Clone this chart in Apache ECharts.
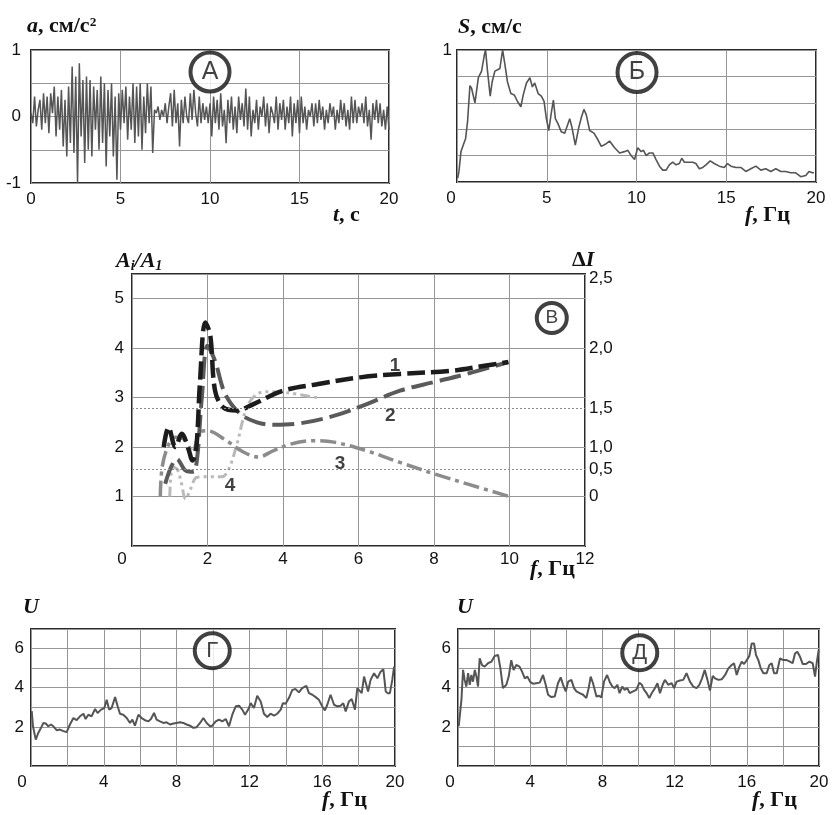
<!DOCTYPE html>
<html>
<head>
<meta charset="utf-8">
<script src="https://cdn.jsdelivr.net/npm/echarts@6/dist/echarts.min.js"></script>
<style>
  html, body { margin: 0; padding: 0; background: #fff; }
  #chart { width: 833px; height: 815px; }
</style>
</head>
<body>
<div id="chart"></div>
<script>
// panel A: accelerogram a(t), sampled every 0.1 s from 0 to 20 s
const accelStep = 0.1;
const accel = [
  0.05, -0.1, 0.3, -0.15, 0.1, 0.25, -0.2, 0.35, -0.1, 0.3,
  -0.25, 0.35, 0.05, 0.45, -0.3, 0.3, -0.2, 0.4, -0.45, 0.25,
  -0.6, 0.45, -0.4, 0.75, -0.55, 0.6, -1.0, 0.8, -0.3, 0.55,
  -0.7, 0.6, -0.5, 0.55, -0.6, 0.45, -0.2, 0.4, -0.5, 0.6,
  -0.4, 0.5, -0.75, 0.4, -0.3, 0.5, -0.6, 0.3, -0.95, 0.35,
  -0.2, 0.4, -0.1, 0.45, -0.35, 0.3, -0.2, 0.5, -0.4, 0.45,
  -0.3, 0.5, -0.5, 0.3, -0.25, 0.5, -0.1, 0.45, -0.55, 0.1,
  0.05, 0.15, -0.05, 0.1, 0.0, 0.2, -0.1, 0.15, 0.35, -0.15,
  0.4, -0.1, 0.2, -0.45, 0.25, -0.1, 0.3, 0.0, -0.1, 0.35,
  -0.05, 0.4, 0.05, -0.15, 0.3, -0.1, 0.2, -0.05, 0.15, -0.1,
  0.2, -0.3, 0.3, -0.1, 0.25, -0.2, 0.35, -0.15, 0.1, -0.4,
  0.25, -0.1, 0.3, -0.2, 0.15, -0.25, 0.3, -0.05, 0.2, -0.15,
  0.42, -0.2, 0.3, -0.3, 0.1, -0.1, 0.25, -0.2, 0.15, 0.0,
  0.3, -0.15, 0.2, -0.25, 0.15, 0.05, -0.1, 0.3, -0.2, 0.2,
  -0.05, 0.25, -0.2, 0.15, -0.1, 0.3, -0.3, 0.2, -0.1, 0.25,
  -0.25, 0.3, -0.1, 0.15, -0.2, 0.1, 0.0, 0.2, -0.15, 0.2,
  -0.1, 0.25, -0.05, 0.15, -0.2, 0.1, -0.1, 0.2, 0.0, 0.15,
  -0.2, 0.1, -0.1, 0.25, -0.05, 0.2, -0.15, 0.1, -0.2, 0.3,
  -0.1, 0.25, -0.1, 0.15, 0.0, 0.2, -0.1, 0.3, -0.15, 0.1,
  -0.35, 0.2, -0.05, 0.25, -0.1, 0.2, -0.15, 0.1, -0.2, 0.15,
  -0.2
];

// panel Б: Fourier spectrum S(f)
const specFreq = [0.04, 0.11, 0.22, 0.35, 0.48, 0.59, 0.72, 0.81, 1.0, 1.19, 1.37, 1.52, 1.59, 1.7, 1.85, 1.96, 2.11, 2.26, 2.39, 2.54, 2.67, 2.81, 3.0, 3.19, 3.37, 3.56, 3.69, 3.87, 4.06, 4.2, 4.33, 4.52, 4.7, 4.85, 4.98, 5.11, 5.26, 5.37, 5.48, 5.63, 5.81, 6.0, 6.28, 6.41, 6.59, 6.78, 6.93, 7.07, 7.2, 7.39, 7.63, 7.85, 8.04, 8.31, 8.5, 8.78, 9.06, 9.33, 9.52, 9.7, 9.89, 10.07, 10.26, 10.39, 10.54, 10.72, 10.91, 11.09, 11.28, 11.46, 11.65, 11.83, 12.02, 12.2, 12.39, 12.52, 12.67, 12.85, 13.13, 13.31, 13.5, 13.69, 13.87, 14.11, 14.33, 14.61, 14.89, 15.07, 15.26, 15.54, 15.81, 16.09, 16.37, 16.65, 16.93, 17.2, 17.48, 17.76, 18.04, 18.31, 18.59, 18.87, 19.15, 19.43, 19.61, 19.8, 19.89];
const specAmp = [0.03, 0.08, 0.23, 0.28, 0.33, 0.46, 0.73, 0.71, 0.6, 0.79, 0.84, 0.96, 1.0, 0.84, 0.65, 0.76, 0.84, 0.85, 0.86, 1.0, 0.89, 0.76, 0.67, 0.66, 0.61, 0.57, 0.66, 0.75, 0.79, 0.72, 0.75, 0.67, 0.65, 0.61, 0.48, 0.39, 0.53, 0.62, 0.48, 0.44, 0.38, 0.37, 0.48, 0.41, 0.28, 0.41, 0.49, 0.55, 0.51, 0.39, 0.37, 0.32, 0.27, 0.29, 0.31, 0.26, 0.22, 0.23, 0.24, 0.2, 0.17, 0.26, 0.23, 0.24, 0.2, 0.22, 0.22, 0.17, 0.12, 0.09, 0.09, 0.13, 0.15, 0.13, 0.14, 0.18, 0.15, 0.15, 0.15, 0.14, 0.1, 0.11, 0.13, 0.16, 0.14, 0.12, 0.11, 0.14, 0.12, 0.11, 0.11, 0.08, 0.1, 0.12, 0.09, 0.1, 0.08, 0.1, 0.08, 0.08, 0.07, 0.07, 0.04, 0.05, 0.08, 0.07, 0.07];

// panel В: amplitude ratios A_i/A_1 (curves 1, 2) and ΔI (curves 3, 4)
const curve1 = [[0.84, 2.0], [0.97, 2.4], [1.15, 2.0], [1.32, 2.27], [1.5, 1.95], [1.6, 1.73], [1.7, 1.95], [1.8, 3.3], [1.94, 4.52], [2.07, 4.28], [2.2, 3.14], [2.42, 2.8], [2.78, 2.74], [3.22, 2.87], [4.0, 3.14], [4.9, 3.27], [6.04, 3.41], [7.1, 3.48], [8.43, 3.54], [9.3, 3.64], [9.97, 3.72]];
const curve2 = [[0.88, 1.26], [1.19, 1.76], [1.41, 1.53], [1.55, 1.5], [1.68, 1.53], [1.85, 3.0], [2.0, 4.05], [2.2, 3.74], [2.47, 3.07], [2.87, 2.67], [3.31, 2.5], [3.75, 2.45], [4.45, 2.48], [5.34, 2.63], [6.22, 2.87], [7.1, 3.14], [7.98, 3.31], [8.87, 3.48], [9.97, 3.72]];
const curve3 = [[0.75, 1.0], [0.8, 1.6], [0.97, 2.05], [1.15, 2.2], [1.4, 2.15], [1.6, 1.9], [1.8, 2.3], [2.0, 2.33], [2.5, 2.13], [2.95, 1.9], [3.35, 1.8], [3.75, 1.93], [4.2, 2.06], [4.8, 2.13], [5.35, 2.1], [6.2, 1.93], [7.1, 1.69], [8.0, 1.46], [8.9, 1.25], [10.0, 1.0]];
const curve4 = [[1.0, 1.0], [1.08, 1.6], [1.2, 1.55], [1.3, 1.3], [1.42, 0.95], [1.55, 1.15], [1.72, 1.39], [2.0, 1.4], [2.38, 1.4], [2.56, 1.55], [2.78, 2.06], [3.04, 2.8], [3.31, 3.07], [3.66, 3.12], [4.1, 3.1], [4.9, 3.0]];
// right axis ΔI: label text and where it sits on the left scale
const dILabels = ['0', '0,5', '1,0', '1,5', '2,0', '2,5'];
const dIPos = [1.0, 1.56, 2.0, 2.78, 4.0, 5.42];
const dIDotted = [1.56, 2.78];
const curveTags = ['1', '2', '3', '4'];
const curveTagPos = [[6.97, 3.64], [6.84, 2.63], [5.51, 1.67], [2.6, 1.22]];

// panel Г: U(f)
const uGFreq = [0.04, 0.11, 0.26, 0.4, 0.55, 0.68, 0.81, 0.95, 1.1, 1.23, 1.41, 1.59, 1.78, 1.96, 2.14, 2.33, 2.51, 2.69, 2.88, 3.0, 3.15, 3.33, 3.52, 3.66, 3.85, 4.03, 4.16, 4.29, 4.43, 4.62, 4.76, 4.89, 5.07, 5.26, 5.44, 5.57, 5.71, 5.9, 6.08, 6.26, 6.45, 6.59, 6.76, 6.9, 7.09, 7.27, 7.45, 7.64, 7.82, 8.0, 8.19, 8.37, 8.55, 8.74, 8.92, 9.1, 9.29, 9.47, 9.65, 9.84, 9.96, 10.15, 10.33, 10.51, 10.7, 10.88, 11.06, 11.25, 11.43, 11.61, 11.76, 11.95, 12.07, 12.25, 12.43, 12.62, 12.8, 12.98, 13.16, 13.35, 13.53, 13.72, 13.84, 13.99, 14.17, 14.36, 14.54, 14.72, 14.9, 15.13, 15.27, 15.46, 15.64, 15.82, 16.0, 16.15, 16.28, 16.46, 16.65, 16.83, 17.01, 17.16, 17.29, 17.47, 17.62, 17.8, 17.93, 18.02, 18.17, 18.3, 18.39, 18.52, 18.66, 18.85, 19.03, 19.21, 19.36, 19.49, 19.61, 19.72, 19.85, 19.95];
const uGVal = [2.8, 2.03, 1.35, 1.69, 1.95, 2.2, 2.17, 2.03, 2.12, 2.03, 1.83, 1.86, 1.78, 1.73, 2.12, 2.45, 2.34, 2.54, 2.67, 2.4, 2.62, 2.54, 2.91, 2.71, 2.88, 2.96, 3.38, 2.88, 2.96, 3.52, 3.05, 2.67, 2.62, 2.45, 2.2, 2.37, 2.06, 2.62, 2.45, 2.34, 2.28, 2.4, 2.71, 2.37, 2.28, 2.2, 2.23, 2.12, 2.17, 2.2, 2.23, 2.2, 2.12, 2.06, 1.95, 1.98, 2.2, 2.45, 2.2, 2.03, 2.06, 2.28, 2.37, 2.28, 2.4, 2.03, 2.62, 3.05, 3.08, 2.88, 2.62, 2.91, 3.21, 2.96, 3.59, 3.3, 2.67, 2.5, 2.67, 2.57, 2.67, 2.88, 3.21, 3.18, 3.47, 3.89, 3.93, 3.76, 3.98, 4.09, 3.72, 3.64, 3.52, 3.38, 3.05, 2.84, 3.13, 3.64, 3.13, 3.05, 3.08, 3.21, 2.79, 3.3, 3.42, 2.88, 3.98, 3.89, 3.72, 4.57, 4.65, 3.81, 4.4, 4.74, 4.48, 4.82, 4.94, 3.81, 3.72, 3.72, 4.4, 5.08];

// panel Д: U(f)
const uDFreq = [0.04, 0.11, 0.19, 0.28, 0.37, 0.46, 0.56, 0.65, 0.74, 0.83, 0.93, 1.02, 1.11, 1.2, 1.33, 1.48, 1.66, 1.85, 2.03, 2.22, 2.35, 2.49, 2.68, 2.81, 2.95, 3.08, 3.23, 3.41, 3.55, 3.7, 3.84, 3.99, 4.15, 4.34, 4.53, 4.71, 4.86, 4.99, 5.17, 5.36, 5.54, 5.69, 5.82, 5.97, 6.1, 6.28, 6.43, 6.56, 6.74, 6.93, 7.11, 7.24, 7.35, 7.48, 7.67, 7.81, 7.94, 8.09, 8.26, 8.4, 8.55, 8.68, 8.83, 8.95, 9.1, 9.23, 9.38, 9.51, 9.7, 9.88, 10.05, 10.18, 10.31, 10.45, 10.6, 10.73, 10.91, 11.05, 11.19, 11.34, 11.46, 11.65, 11.84, 11.97, 12.11, 12.3, 12.48, 12.66, 12.85, 13.03, 13.22, 13.37, 13.52, 13.67, 13.82, 13.96, 14.11, 14.24, 14.43, 14.61, 14.8, 14.98, 15.16, 15.29, 15.44, 15.59, 15.72, 15.85, 16.0, 16.14, 16.27, 16.4, 16.51, 16.64, 16.77, 16.92, 17.1, 17.25, 17.38, 17.51, 17.66, 17.84, 18.02, 18.21, 18.39, 18.54, 18.67, 18.8, 18.95, 19.1, 19.28, 19.47, 19.65, 19.78, 19.87, 19.98];
const uDVal = [2.03, 2.12, 3.38, 4.91, 4.4, 4.06, 4.74, 4.15, 4.65, 4.31, 4.91, 4.57, 4.06, 5.5, 5.16, 5.08, 5.25, 5.33, 5.62, 5.67, 4.99, 3.98, 4.15, 4.57, 5.41, 4.91, 5.16, 5.08, 4.82, 4.48, 4.57, 4.31, 4.2, 4.23, 4.26, 4.65, 4.15, 3.64, 3.52, 3.55, 4.23, 4.53, 4.15, 3.81, 4.31, 4.4, 3.98, 3.81, 3.72, 3.64, 3.47, 3.98, 4.57, 4.23, 3.55, 3.59, 3.5, 4.31, 4.65, 4.31, 4.06, 3.98, 4.15, 3.72, 4.06, 3.89, 3.98, 3.72, 3.81, 3.89, 4.26, 4.15, 3.89, 3.72, 3.47, 3.72, 3.98, 4.23, 3.72, 4.15, 4.4, 4.15, 4.23, 3.98, 4.31, 4.37, 4.4, 4.74, 4.31, 4.06, 3.98, 4.15, 4.48, 4.91, 4.4, 3.86, 4.6, 4.48, 4.4, 4.43, 4.65, 4.99, 5.16, 5.25, 4.65, 5.08, 5.33, 5.21, 5.41, 5.62, 6.26, 6.26, 5.67, 5.41, 4.99, 4.74, 4.74, 5.16, 5.25, 4.74, 4.74, 5.5, 5.41, 5.41, 5.33, 5.25, 5.75, 5.84, 5.58, 5.21, 5.21, 5.33, 5.25, 4.57, 5.25, 5.92];

// panel markers (circled letters)
const panelNames = ['А', 'Б', 'В', 'Г', 'Д'];
const panelMarkPos = [[10.0, 0.67], [10.03, 0.83], [11.12, 4.61], [9.96, 5.89], [10.07, 5.79]];

const SANS = 'Liberation Sans';
const SERIF = 'Liberation Serif';
const GRIDLINE = '#969696';
const TRACE = '#555';
const TICK = 17;

const zip = (xs, ys) => xs.map((x, i) => [x, ys[i]]);

// the "0" tick sits a bit left of the corner in the scan
const zeroLeft = (v) => (v === 0 ? '{z|0}' : String(v));
const everyFourth = (v) => (v % 4 === 0 ? zeroLeft(v) : '');

function xAx(gridIndex, max, interval, opts = {}) {
  return {
    type: 'value', gridIndex, min: 0, max, interval,
    axisLine: { show: false }, axisTick: { show: false },
    splitLine: { show: true, lineStyle: { color: GRIDLINE, width: 1 } },
    axisLabel: {
      fontFamily: SANS, fontSize: TICK, color: '#111', margin: opts.margin || 8,
      formatter: opts.formatter || zeroLeft,
      rich: { z: { fontFamily: SANS, fontSize: TICK, color: '#111', padding: [0, opts.zeroPad || 0, 0, 0] } },
      showMinLabel: true, showMaxLabel: true
    }
  };
}

function yAx(gridIndex, min, max, interval, formatter, margin) {
  return {
    type: 'value', gridIndex, min, max, interval,
    axisLine: { show: false }, axisTick: { show: false },
    splitLine: { show: true, lineStyle: { color: GRIDLINE, width: 1 } },
    axisLabel: { fontFamily: SANS, fontSize: TICK, color: '#111', margin: margin, formatter, showMinLabel: true, showMaxLabel: true }
  };
}

const boxed = { show: true, borderColor: '#2a2a2a', borderWidth: 2, backgroundColor: 'transparent' };

const grids = [
  { left: 31, top: 50, width: 358, height: 133, ...boxed },
  { left: 457, top: 50, width: 359, height: 132, ...boxed },
  { left: 132, top: 274, width: 453, height: 272, ...boxed },
  { left: 31, top: 629, width: 364, height: 137, ...boxed },
  { left: 458, top: 629, width: 361, height: 137, ...boxed }
];

const xAxes = [
  xAx(0, 20, 5, { margin: 8 }),
  xAx(1, 20, 5, { margin: 8, zeroPad: 12 }),
  xAx(2, 12, 2, { margin: 5, zeroPad: 20 }),
  xAx(3, 20, 2, { margin: 8, zeroPad: 18, formatter: everyFourth }),
  xAx(4, 20, 2, { margin: 8, zeroPad: 16, formatter: everyFourth })
];

const yAxes = [
  yAx(0, -1, 1, 0.5, (v) => (Number.isInteger(v) ? String(v) : ''), 10),
  yAx(1, 0, 1, 0.2, (v) => (v === 1 ? '1' : ''), 5),
  yAx(2, 0, 5.5, 1, (v) => (v >= 1 && v <= 5 ? String(v) : ''), 8),
  yAx(3, 0, 7, 1, (v) => (v > 0 && v % 2 === 0 ? String(v) : ''), 7),
  yAx(4, 0, 7, 1, (v) => (v > 0 && v % 2 === 0 ? String(v) : ''), 7),
  // right-hand ΔI scale of panel В, non-uniform labels
  {
    type: 'value', gridIndex: 2, position: 'right', min: 0, max: 5.5,
    axisLine: { show: false }, axisTick: { show: false }, splitLine: { show: false },
    axisLabel: {
      fontFamily: SANS, fontSize: TICK, color: '#111', margin: 4,
      customValues: dIPos,
      formatter: (v) => {
        const i = dIPos.findIndex((p) => Math.abs(p - v) < 1e-6);
        return i >= 0 ? dILabels[i] : '';
      }
    }
  }
];

const titleStyle = {
  fontFamily: SERIF, fontSize: 22, fontWeight: 'bold', color: '#111',
  rich: {
    i: { fontFamily: SERIF, fontSize: 22, fontWeight: 'bold', fontStyle: 'italic', color: '#111' },
    b: { fontFamily: SERIF, fontSize: 22, fontWeight: 'bold', color: '#111' },
    sub: { fontFamily: SERIF, fontSize: 14, fontWeight: 'bold', fontStyle: 'italic', color: '#111', padding: [10, 0, 0, 0] }
  }
};

const label = (text, left, top) => ({ text, left, top, padding: 0, textStyle: titleStyle });

const titles = [
  label('{i|a}{b|, см/с²}', 27, 15),
  label('{i|S}{b|, см/с}', 458, 16),
  label('{i|t}{b|, с}', 333, 204),
  label('{i|f}{b|, Гц}', 745, 204),
  label('{i|A}{sub|i}{i|/A}{sub|1}', 116, 249),
  label('{b|Δ}{i|I}', 572, 249),
  label('{i|f}{b|, Гц}', 530, 558),
  label('{i|U}', 23, 596),
  label('{i|f}{b|, Гц}', 322, 789),
  label('{i|U}', 457, 596),
  label('{i|f}{b|, Гц}', 752, 789)
];

const trace = (xi, data, width) => ({
  type: 'line', xAxisIndex: xi, yAxisIndex: xi, data, symbol: 'none',
  lineStyle: { color: TRACE, width }, silent: true, animation: false
});

const dashed = (data, color, width, dash, withMark) => {
  const s = {
    type: 'line', xAxisIndex: 2, yAxisIndex: 2, data, symbol: 'none', smooth: 0.35,
    lineStyle: { color, width, type: dash, cap: 'butt' }, silent: true, animation: false
  };
  if (withMark) {
    s.markLine = {
      silent: true, symbol: 'none', label: { show: false },
      lineStyle: { type: [2, 2], color: '#8a8a8a', width: 1 },
      data: dIDotted.map((y) => ({ yAxis: y }))
    };
  }
  return s;
};

const series = [
  trace(0, accel.map((v, i) => [+(i * accelStep).toFixed(2), v]), 1.5),
  trace(1, zip(specFreq, specAmp), 1.6),
  dashed(curve4, '#b9b9b9', 3, [10, 4, 3, 4, 3, 4], true),
  dashed(curve3, '#8c8c8c', 3.5, [16, 5, 4, 5]),
  dashed(curve2, '#5a5a5a', 4, [22, 7]),
  dashed(curve1, '#1c1c1c', 4.5, [18, 6]),
  {
    type: 'scatter', xAxisIndex: 2, yAxisIndex: 2, symbolSize: 1, silent: true, animation: false,
    itemStyle: { color: 'transparent' },
    data: curveTagPos.map((p, i) => ({ value: p, name: curveTags[i] })),
    label: { show: true, position: 'inside', formatter: '{b}', fontFamily: SANS, fontSize: 19, fontWeight: 'bold', color: '#111' }
  },
  trace(3, zip(uGFreq, uGVal), 2),
  trace(4, zip(uDFreq, uDVal), 2)
];

// circled panel letters
const markSizes = [39, 39, 30, 35, 35];
const markFont = [25, 25, 19, 22, 22];
panelNames.forEach((name, i) => {
  series.push({
    type: 'scatter', xAxisIndex: i, yAxisIndex: i, silent: true, animation: false, z: 10,
    symbol: 'circle', symbolSize: markSizes[i],
    itemStyle: { color: '#fff', borderColor: '#111', borderWidth: 4 },
    data: [{ value: panelMarkPos[i], name }],
    label: { show: true, position: 'inside', formatter: '{b}', fontFamily: SANS, fontSize: markFont[i], color: '#111' }
  });
});

const chart = echarts.init(document.getElementById('chart'), null, { renderer: 'canvas' });
chart.setOption({
  backgroundColor: '#fff',
  animation: false,
  title: titles,
  grid: grids,
  xAxis: xAxes,
  yAxis: yAxes,
  series
});
</script>
</body>
</html>
